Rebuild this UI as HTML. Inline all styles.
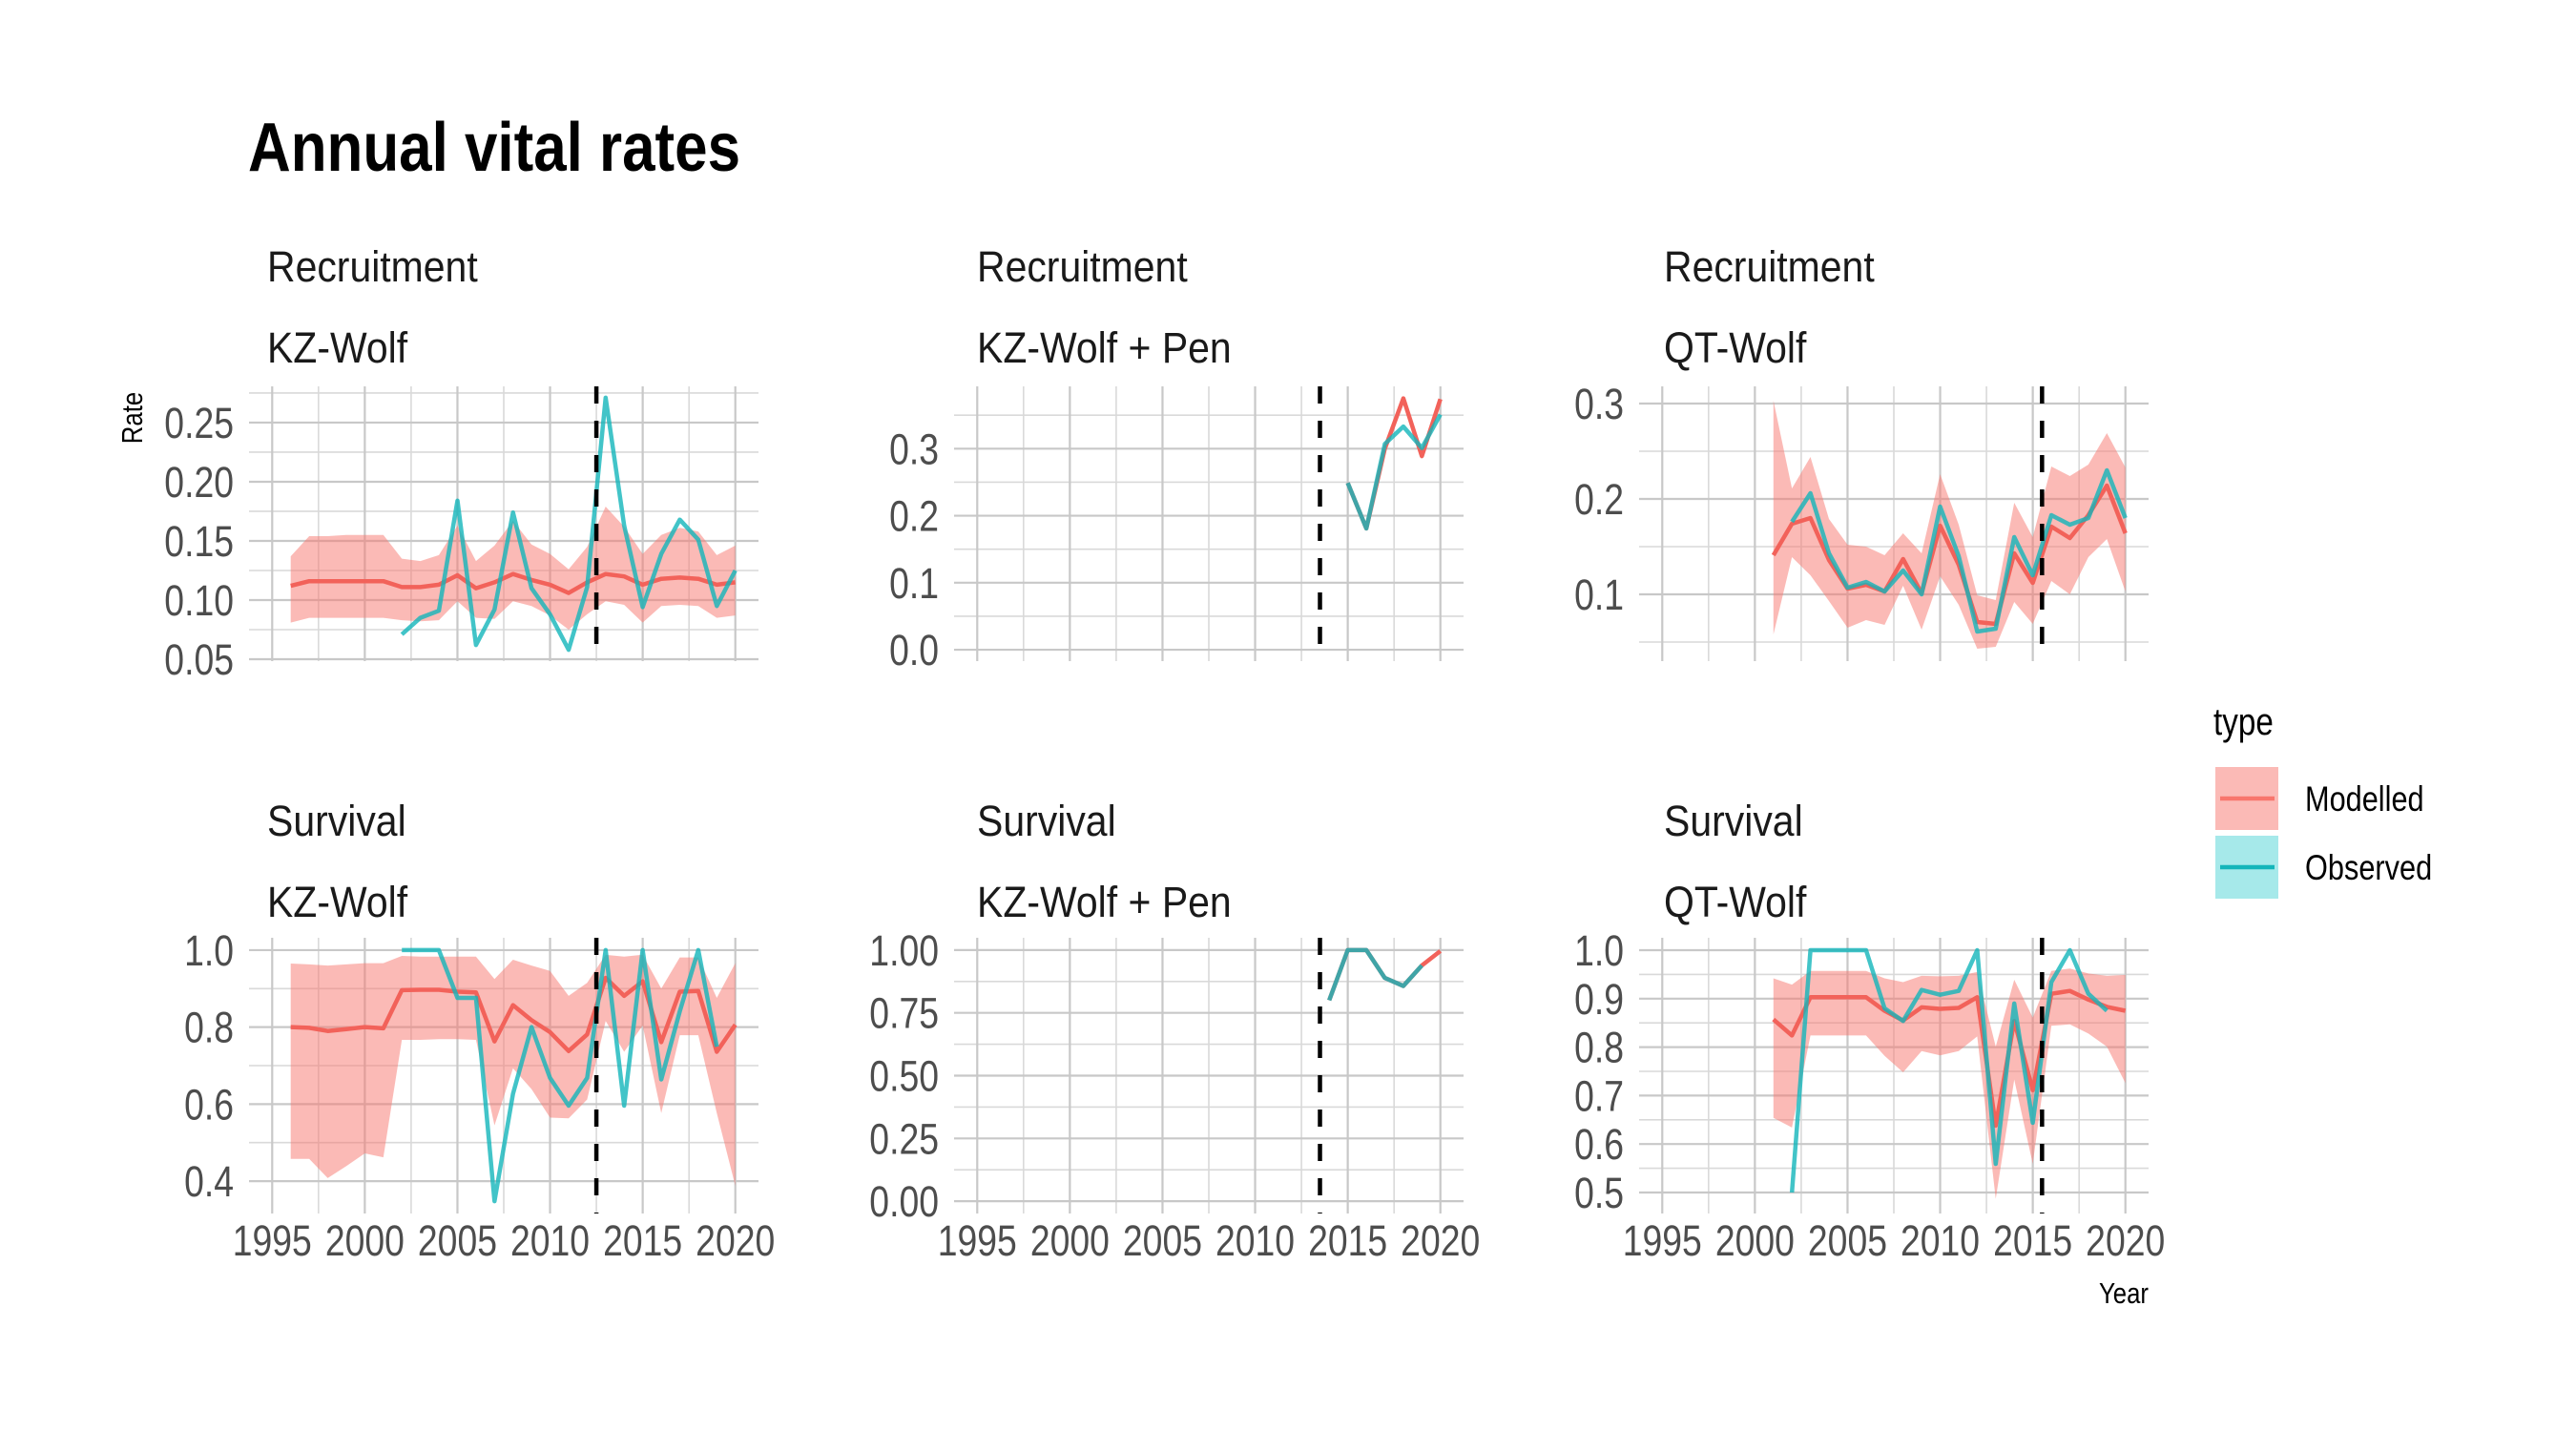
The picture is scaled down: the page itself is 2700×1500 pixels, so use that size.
<!DOCTYPE html>
<html><head><meta charset="utf-8"><style>
html,body{margin:0;padding:0;background:#fff;}
svg{display:block;}
text{font-family:"Liberation Sans",sans-serif;}
</style></head><body>
<svg id="chart" xmlns="http://www.w3.org/2000/svg" width="2700" height="1500" viewBox="0 0 2700 1500">
<rect x="0" y="0" width="2700" height="1500" fill="#fff"/>
<text x="260" y="179" font-size="72" font-weight="bold" fill="#000" textLength="516" lengthAdjust="spacingAndGlyphs">Annual vital rates</text>
<text class="nw" x="0" y="0" font-size="31" fill="#000" text-anchor="middle" transform="translate(149,438) rotate(-90)">Rate</text>
<text class="nw" x="2252" y="1366" font-size="31" fill="#000" text-anchor="end">Year</text>
<g>
<text class="nw" x="2320" y="770" font-size="40" fill="#000">type</text>
<g>
<rect x="2322" y="804" width="66" height="66" fill="#F8766D" fill-opacity="0.5"/>
<line x1="2327" y1="837" x2="2384" y2="837" stroke="#F8766D" stroke-width="4.5"/>
<text class="nw" x="2416" y="850" font-size="37" fill="#000">Modelled</text>
</g>
<g>
<rect x="2322" y="876" width="66" height="66" fill="#00BFC4" fill-opacity="0.35"/>
<line x1="2327" y1="909" x2="2384" y2="909" stroke="#13b5ba" stroke-width="4.5"/>
<text class="nw" x="2416" y="922" font-size="37" fill="#000">Observed</text>
</g>
</g>
<g id="panels"></g>
</svg>
<script>
// ---- data ----
const yearsFull = [1996,1997,1998,1999,2000,2001,2002,2003,2004,2005,2006,2007,2008,2009,2010,2011,2012,2013,2014,2015,2016,2017,2018,2019,2020];
const kzRecMod = [0.112,0.116,0.116,0.116,0.116,0.116,0.111,0.111,0.113,0.121,0.110,0.115,0.122,0.117,0.113,0.106,0.115,0.122,0.120,0.113,0.118,0.119,0.118,0.113,0.115];
const kzRecHi  = [0.137,0.154,0.154,0.155,0.155,0.155,0.135,0.133,0.138,0.163,0.133,0.146,0.167,0.147,0.139,0.126,0.145,0.179,0.162,0.139,0.155,0.161,0.158,0.138,0.146];
const kzRecLo  = [0.081,0.085,0.085,0.085,0.085,0.085,0.083,0.082,0.083,0.099,0.085,0.084,0.099,0.095,0.087,0.075,0.088,0.099,0.096,0.081,0.095,0.096,0.095,0.085,0.087];
const kzRecObsYears = [2002,2003,2004,2005,2006,2007,2008,2009,2010,2011,2012,2013,2014,2015,2016,2017,2018,2019,2020];
const kzRecObs = [0.071,0.085,0.091,0.184,0.062,0.092,0.174,0.110,0.088,0.058,0.111,0.271,0.163,0.094,0.139,0.168,0.151,0.095,0.125];

const kzSurMod = [0.800,0.798,0.790,0.795,0.800,0.797,0.896,0.897,0.897,0.892,0.890,0.763,0.857,0.818,0.787,0.738,0.781,0.928,0.881,0.919,0.761,0.892,0.894,0.736,0.806];
const kzSurHi  = [0.965,0.963,0.960,0.963,0.966,0.966,0.985,0.983,0.983,0.983,0.983,0.925,0.975,0.960,0.946,0.881,0.915,0.988,0.983,0.988,0.900,0.981,0.981,0.876,0.966];
const kzSurLo  = [0.458,0.458,0.408,0.439,0.472,0.462,0.767,0.767,0.769,0.769,0.767,0.545,0.693,0.639,0.565,0.563,0.612,0.816,0.736,0.804,0.577,0.779,0.779,0.577,0.388];
const kzSurObsYears = [2002,2003,2004,2005,2006,2007,2008,2009,2010,2011,2012,2013,2014,2015,2016,2017,2018,2019];
const kzSurObs = [1.0,1.0,1.0,0.876,0.876,0.348,0.627,0.800,0.668,0.596,0.668,1.0,0.596,1.0,0.664,0.841,1.0,0.749];

const penRecYears = [2015,2016,2017,2018,2019,2020];
const penRecMod = [0.249,0.181,0.300,0.375,0.289,0.374];
const penRecObs = [0.249,0.181,0.307,0.333,0.301,0.351];
const penSurYears = [2014,2015,2016,2017,2018,2019,2020];
const penSurMod = [0.800,1.0,1.0,0.889,0.857,0.939,0.996];
const penSurObsYears = [2014,2015,2016,2017,2018,2019];
const penSurObs = [0.800,1.0,1.0,0.889,0.857,0.939];

const qtYears = [2001,2002,2003,2004,2005,2006,2007,2008,2009,2010,2011,2012,2013,2014,2015,2016,2017,2018,2019,2020];
const qtRecMod = [0.141,0.174,0.180,0.136,0.106,0.110,0.103,0.137,0.101,0.172,0.131,0.071,0.069,0.143,0.112,0.171,0.159,0.183,0.214,0.164];
const qtRecHi  = [0.303,0.211,0.244,0.179,0.152,0.150,0.141,0.164,0.143,0.226,0.173,0.099,0.094,0.196,0.160,0.234,0.224,0.236,0.269,0.233];
const qtRecLo  = [0.058,0.139,0.120,0.093,0.065,0.073,0.068,0.109,0.063,0.119,0.089,0.043,0.045,0.092,0.069,0.114,0.100,0.139,0.158,0.103];
const qtRecObsYears = [2002,2003,2004,2005,2006,2007,2008,2009,2010,2011,2012,2013,2014,2015,2016,2017,2018,2019,2020];
const qtRecObs = [0.176,0.206,0.143,0.107,0.113,0.103,0.125,0.100,0.192,0.140,0.061,0.064,0.160,0.120,0.183,0.173,0.180,0.230,0.180];

const qtSurMod = [0.857,0.824,0.903,0.903,0.903,0.903,0.875,0.855,0.882,0.879,0.881,0.903,0.638,0.854,0.711,0.910,0.916,0.898,0.883,0.875];
const qtSurHi  = [0.942,0.929,0.957,0.957,0.957,0.957,0.942,0.934,0.947,0.946,0.947,0.955,0.801,0.939,0.861,0.957,0.962,0.952,0.947,0.949];
const qtSurLo  = [0.654,0.634,0.824,0.824,0.824,0.824,0.782,0.748,0.792,0.783,0.792,0.822,0.487,0.733,0.559,0.844,0.847,0.828,0.801,0.726];
const qtSurObsYears = [2002,2003,2004,2005,2006,2007,2008,2009,2010,2011,2012,2013,2014,2015,2016,2017,2018,2019];
const qtSurObs = [0.500,1.0,1.0,1.0,1.0,0.880,0.854,0.918,0.908,0.916,1.0,0.559,0.890,0.644,0.934,1.0,0.910,0.875];

const xTickLabels = ["1995","2000","2005","2010","2015","2020"];
const xTicks = [1995,2000,2005,2010,2015,2020];

// ---- layout ----
const NS = "http://www.w3.org/2000/svg";
const root = document.getElementById('panels');
function mk(tag, attrs, parent){ const e=document.createElementNS(NS,tag); for(const k in attrs) e.setAttribute(k,attrs[k]); (parent||root).appendChild(e); return e; }
const cols = [{x0:261,x1:795,sx:280},{x0:1000,x1:1534,sx:1024},{x0:1718,x1:2252,sx:1744}];
const rows = [{y0:405,y1:693,s1:295,s2:380},{y0:983,y1:1272,s1:876,s2:961}];
const XD = [1993.75, 2021.25];

const panels = [
 {c:0,r:0,name:'kz-wolf-recruitment',t1:'Recruitment',t2:'KZ-Wolf',dom:[0.0484,0.2806],ticks:[0.05,0.10,0.15,0.20,0.25],labels:['0.05','0.10','0.15','0.20','0.25'],step:0.05,vline:2012.5,
  my:yearsFull,mod:kzRecMod,hi:kzRecHi,lo:kzRecLo,oy:kzRecObsYears,obs:kzRecObs},
 {c:1,r:0,name:'kz-pen-recruitment',t1:'Recruitment',t2:'KZ-Wolf + Pen',dom:[-0.017,0.393],ticks:[0,0.1,0.2,0.3],labels:['0.0','0.1','0.2','0.3'],step:0.1,vline:2013.5,
  my:penRecYears,mod:penRecMod,hi:null,lo:null,oy:penRecYears,obs:penRecObs},
 {c:2,r:0,name:'qt-wolf-recruitment',t1:'Recruitment',t2:'QT-Wolf',dom:[0.030,0.318],ticks:[0.1,0.2,0.3],labels:['0.1','0.2','0.3'],step:0.1,vline:2015.5,
  my:qtYears,mod:qtRecMod,hi:qtRecHi,lo:qtRecLo,oy:qtRecObsYears,obs:qtRecObs},
 {c:0,r:1,name:'kz-wolf-survival',t1:'Survival',t2:'KZ-Wolf',dom:[0.316,1.032],ticks:[0.4,0.6,0.8,1.0],labels:['0.4','0.6','0.8','1.0'],step:0.2,vline:2012.5,
  my:yearsFull,mod:kzSurMod,hi:kzSurHi,lo:kzSurLo,oy:kzSurObsYears,obs:kzSurObs},
 {c:1,r:1,name:'kz-pen-survival',t1:'Survival',t2:'KZ-Wolf + Pen',dom:[-0.049,1.049],ticks:[0,0.25,0.5,0.75,1.0],labels:['0.00','0.25','0.50','0.75','1.00'],step:0.25,vline:2013.5,
  my:penSurYears,mod:penSurMod,hi:null,lo:null,oy:penSurObsYears,obs:penSurObs},
 {c:2,r:1,name:'qt-wolf-survival',t1:'Survival',t2:'QT-Wolf',dom:[0.4567,1.0256],ticks:[0.5,0.6,0.7,0.8,0.9,1.0],labels:['0.5','0.6','0.7','0.8','0.9','1.0'],step:0.1,vline:2015.5,
  my:qtYears,mod:qtSurMod,hi:qtSurHi,lo:qtSurLo,oy:qtSurObsYears,obs:qtSurObs}
];

panels.forEach(p=>{
  const C=cols[p.c], R=rows[p.r];
  const X = v => C.x0 + (v-XD[0])/(XD[1]-XD[0])*(C.x1-C.x0);
  const Y = v => R.y1 - (v-p.dom[0])/(p.dom[1]-p.dom[0])*(R.y1-R.y0);
  const g = mk('g',{});
  
  
  let s1 = mk('text',{x:C.sx,y:R.s1,'font-size':45,fill:'#1a1a1a',class:'nw strip'},g); s1.textContent=p.t1;
  
  
  let s2 = mk('text',{x:C.sx,y:R.s2,'font-size':45,fill:'#1a1a1a',class:'nw strip'},g); s2.textContent=p.t2;
  
  
  for(let v=p.ticks[0]-p.step/2; v<=p.dom[1]+1e-9; v+=p.step){
    if(v<p.dom[0]) continue;
    mk('line',{x1:C.x0,x2:C.x1,y1:Y(v),y2:Y(v),stroke:'#d9d9d9','stroke-width':1.6},g);
  }
  for(let v=1997.5; v<2021; v+=5) mk('line',{x1:X(v),x2:X(v),y1:R.y0,y2:R.y1,stroke:'#d9d9d9','stroke-width':1.6},g);
  p.ticks.forEach((v,i)=>{
    mk('line',{x1:C.x0,x2:C.x1,y1:Y(v),y2:Y(v),stroke:'#c8c8c8','stroke-width':2.2},g);
    const t = mk('text',{x:C.x0-16,y:Y(v)+16,'font-size':45,fill:'#4d4d4d','text-anchor':'end',class:'nw'},g);
    t.textContent=p.labels[i];
    
    
  });
  xTicks.forEach((v,i)=>{
    mk('line',{x1:X(v),x2:X(v),y1:R.y0,y2:R.y1,stroke:'#c8c8c8','stroke-width':2.2},g);
    if(p.r===1){
      const t = mk('text',{x:X(v),y:1316,'font-size':45,fill:'#4d4d4d','text-anchor':'middle',class:'nw'},g);
      t.textContent=xTickLabels[i];
      
      
    }
  });
  if(p.hi){
    let d='M'+p.my.map((y,i)=>X(y).toFixed(1)+','+Y(p.hi[i]).toFixed(1)).join('L');
    for(let i=p.my.length-1;i>=0;i--) d+='L'+X(p.my[i]).toFixed(1)+','+Y(p.lo[i]).toFixed(1);
    const rb = mk('path',{d:d+'Z',fill:'#F8766D','fill-opacity':0.5},g);
    
    
  }
  const ml = mk('path',{d:'M'+p.my.map((y,i)=>X(y).toFixed(1)+','+Y(p.mod[i]).toFixed(1)).join('L'),fill:'none',stroke:'#F2625A','stroke-width':4.5,'stroke-linejoin':'round'},g);
  
  
  const ol = mk('path',{d:'M'+p.oy.map((y,i)=>X(y).toFixed(1)+','+Y(p.obs[i]).toFixed(1)).join('L'),fill:'none',stroke:'#13b5ba','stroke-width':4.5,'stroke-linejoin':'round','stroke-opacity':0.8},g);
  
  
  const vl = mk('line',{x1:X(p.vline),x2:X(p.vline),y1:R.y0,y2:R.y1,stroke:'#000','stroke-width':4.5,'stroke-dasharray':'18 18'},g);
  
  
});

// condense text to narrow proportions
document.querySelectorAll('text.nw').forEach(t=>{
  const w = t.getComputedTextLength();
  const f = t.classList.contains('strip') ? 0.91 : 0.83;
  if(w>0){
    t.setAttribute('textLength', (w*f).toFixed(1));
    t.setAttribute('lengthAdjust','spacingAndGlyphs');
  }
});
</script>
</body></html>
